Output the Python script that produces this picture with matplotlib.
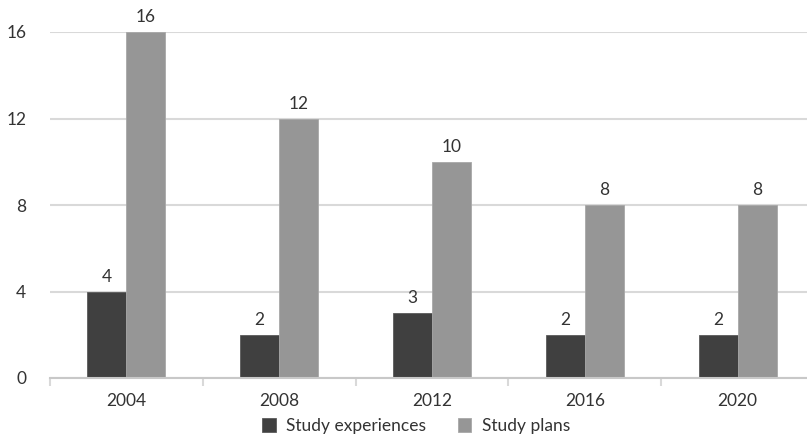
import matplotlib
matplotlib.use("Agg")
import matplotlib.pyplot as plt
import numpy as np

years = ["2004", "2008", "2012", "2016", "2020"]
experiences = [4, 2, 3, 2, 2]
plans = [16, 12, 10, 8, 8]
yticks = [0, 4, 8, 12, 16]

c_dark = "#404040"
c_light = "#969696"
c_grid = "#d9d9d9"
c_text = "#333333"

plt.rcParams["font.family"] = ["Lato", "DejaVu Sans"]

fig = plt.figure(figsize=(8.07, 4.46), dpi=100)
ax = fig.add_axes([50 / 807, 1 - 378 / 446, 764 / 807, 346 / 446])

x = np.arange(len(years))
w = 0.255
b1 = ax.bar(x - w / 2, experiences, w, color=c_dark, edgecolor="#5a5a5a", linewidth=0.6,
            label="Study experiences", zorder=3)
b2 = ax.bar(x + w / 2, plans, w, color=c_light, edgecolor="#a8a8a8", linewidth=0.6,
            label="Study plans", zorder=3)

for bars in (b1, b2):
    for rect in bars:
        h = rect.get_height()
        ax.annotate(f"{h:g}", (rect.get_x() + rect.get_width() / 2, h),
                    xytext=(0, 5), textcoords="offset points",
                    ha="center", va="bottom", fontsize=12.5, color=c_text)

ax.set_xlim(-0.5, len(years) - 0.5)
ax.set_ylim(0, 16)
ax.set_yticks(yticks)
ax.tick_params(axis="y", length=0, pad=17, labelsize=12.5, labelcolor=c_text)
ax.yaxis.grid(True, color=c_grid, linewidth=1.5, zorder=0)

ax.set_xticks(x, years)
ax.set_xticks(np.arange(len(years) + 1) - 0.5, minor=True)
ax.tick_params(axis="x", which="major", length=0, pad=11, labelsize=12.5, labelcolor=c_text)
ax.tick_params(axis="x", which="minor", length=6, width=1.5, color=c_grid)

for side in ("left", "right", "top"):
    ax.spines[side].set_visible(False)
ax.spines["bottom"].set_color("#c8c8c8")
ax.spines["bottom"].set_linewidth(1.5)
ax.spines["bottom"].set_zorder(4)

fig.legend(handles=[b1, b2], loc="center", bbox_to_anchor=(416 / 807, 1 - 426 / 446),
           ncol=2, frameon=False, fontsize=12.5, labelcolor=c_text,
           handlelength=0.8, handleheight=0.8, handletextpad=0.6, columnspacing=1.8)

fig.savefig("out.png", dpi=100)
